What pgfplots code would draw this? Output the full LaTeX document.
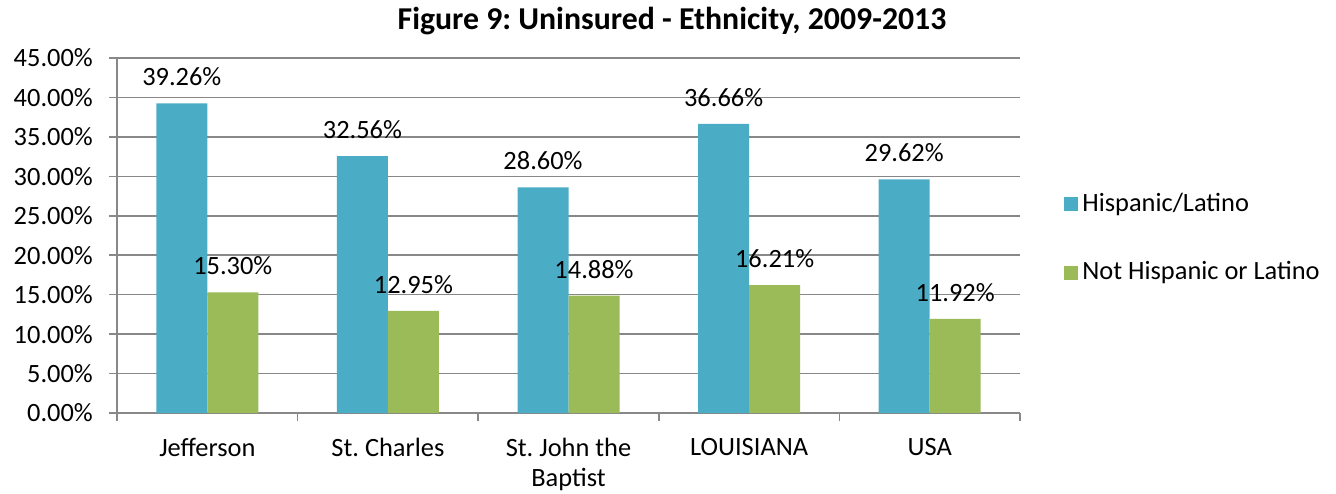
\documentclass[border=0pt]{standalone}
\usepackage{fontspec}
\setmainfont{Carlito}
\usepackage{pgfplots}
\pgfplotsset{compat=1.18}
\definecolor{hisp}{HTML}{4BACC6}
\definecolor{nonh}{HTML}{9BBB59}
\definecolor{gridc}{HTML}{888888}
\frenchspacing
\begin{document}
\fontsize{13.2}{13.5}\selectfont
\begin{tikzpicture}
\useasboundingbox (0,0) rectangle (668pt,246.5pt);
\node[font=\fontsize{15.9}{18}\selectfont\bfseries, anchor=base, inner sep=0pt] at (336pt,231.5pt) {Figure 9: Uninsured - Ethnicity, 2009-2013};
\begin{axis}[
  at={(58.5pt,40pt)}, anchor=south west,
  scale only axis, width=451.5pt, height=177.5pt,
  ybar=0pt, bar width=25.5pt,
  xmin=-0.5, xmax=4.5, ymin=0, ymax=45,
  xtick={0,1,2,3,4},
  xticklabels={Jefferson, St. Charles, {St. John the\\Baptist}, LOUISIANA, USA},
  minor xtick={-0.5,0.5,...,4.5},
  major x tick style={draw=none},
  minor x tick style={gridc, line width=0.75pt},
  minor tick length=4pt,
  ytick={0,5,...,45},
  major tick length=4pt,
  tick align=outside,
  y tick style={gridc, line width=0.75pt},
  ymajorgrids, grid style={gridc, line width=0.75pt},
  axis x line*=bottom, axis y line*=left,
  axis line style={-, gridc, line width=0.75pt},
  /pgf/number format/assume math mode=true,
  yticklabel={\pgfmathprintnumber[fixed,fixed zerofill,precision=2]{\tick}\%},
  ticklabel style={font=\fontsize{13.2}{15.2}\selectfont},
  yticklabel style={xshift=-3.5pt},
  xticklabel style={align=center, yshift=-4pt},
  nodes near coords={\pgfmathprintnumber[fixed,fixed zerofill,precision=2]{\pgfplotspointmeta}\%},
  nodes near coords style={font=\fontsize{13.2}{15}\selectfont, yshift=4pt, black},
  legend style={draw=none, at={(1.0465,0.4915)}, anchor=west, xshift=-2pt, row sep=19pt,
    font=\fontsize{13.2}{15}\selectfont, /tikz/every even column/.append style={column sep=0pt}},
  legend cell align=left,
  legend image code/.code={\fill[#1,draw=none] (0pt,-3.5pt) rectangle (7pt,3.5pt);},
]
\addplot[fill=hisp, draw=none] coordinates {(0,39.26) (1,32.56) (2,28.60) (3,36.66) (4,29.62)};
\addplot[fill=nonh, draw=none] coordinates {(0,15.30) (1,12.95) (2,14.88) (3,16.21) (4,11.92)};
\legend{Hispanic/Latino, Not Hispanic or Latino}
\end{axis}
\end{tikzpicture}
\end{document}
